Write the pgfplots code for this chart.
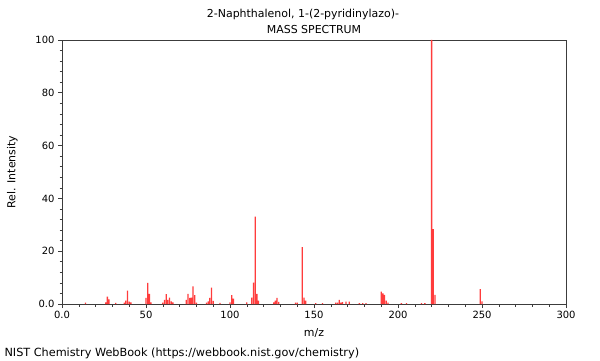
\documentclass[border=0pt]{standalone}
\usepackage{pgfplots}
\pgfplotsset{compat=1.18}
\usepackage{fontspec}
\setmainfont{DejaVu Sans}
\definecolor{axgray}{RGB}{60,60,60}
\definecolor{specred}{RGB}{255,60,60}
\begin{document}
\begin{tikzpicture}[x=1bp,y=1bp]
\path[use as bounding box] (0,0) rectangle (600,360);
\begin{axis}[
  at={(62bp,56bp)}, anchor=south west,
  scale only axis, width=504bp, height=264bp,
  xmin=0, xmax=300, ymin=0, ymax=100,
  axis line style={axgray},
  xtick={0,50,...,300},
  xticklabels={0.0,50,100,150,200,250,300},
  ytick={0,20,...,100},
  yticklabels={0.0,20,40,60,80,100},
  minor x tick num=4, minor y tick num=4,
  tick align=outside,
  xtick pos=bottom, ytick pos=left,
  major tick length=4bp, minor tick length=2.5bp,
  tick style={axgray, line width=0.6pt},
  ticklabel style={font=\fontsize{10}{12}\selectfont},
  /pgf/number format/assume math mode=true,
  xlabel={m/z}, ylabel={Rel. Intensity},
  label style={font=\fontsize{11}{13}\selectfont},
  xlabel style={yshift=-3bp},
  ylabel style={yshift=11bp},
  clip=true,
]
\addplot[ybar, bar width=1.3bp, fill=specred, draw=none, mark=none] table {
x y
14 0.5
26 0.6
27 2.8
28 1.8
32 0.4
37 0.5
38 1.3
39 5.1
40 0.9
41 0.6
50 2.3
51 8.0
52 3.8
53 0.6
60 0.5
61 1.6
62 3.7
63 1.6
64 2.4
65 1.0
66 0.6
74 1.6
75 3.8
76 2.3
77 2.4
78 6.7
79 3.4
80 0.5
86 0.5
87 1.0
88 2.3
89 6.2
90 1.2
94 0.4
100 0.6
101 3.4
102 2.0
110 0.6
113 2.4
114 8.1
115 33.1
116 3.8
117 1.3
126 0.6
127 1.3
128 2.3
129 0.8
139 0.5
140 0.5
143 21.5
144 2.4
145 1.3
151 0.3
155 0.3
163 0.5
164 0.5
165 1.6
166 0.5
167 0.7
169 0.9
171 0.9
177 0.3
179 0.3
181 0.3
190 4.7
191 4.0
192 3.5
193 1.3
194 0.5
202 0.3
205 0.3
214 0.3
216 0.3
220 100
221 28.4
222 3.5
249 5.6
250 1.0
};
\end{axis}
\node[font=\fontsize{11}{13}\selectfont] at (303,346) {2-Naphthalenol, 1-(2-pyridinylazo)-};
\node[font=\fontsize{11}{13}\selectfont] at (314,330) {MASS SPECTRUM};
\node[font=\fontsize{11.3}{13}\selectfont, anchor=west] at (1,7) {NIST Chemistry WebBook (https://webbook.nist.gov/chemistry)};
\end{tikzpicture}
\end{document}
